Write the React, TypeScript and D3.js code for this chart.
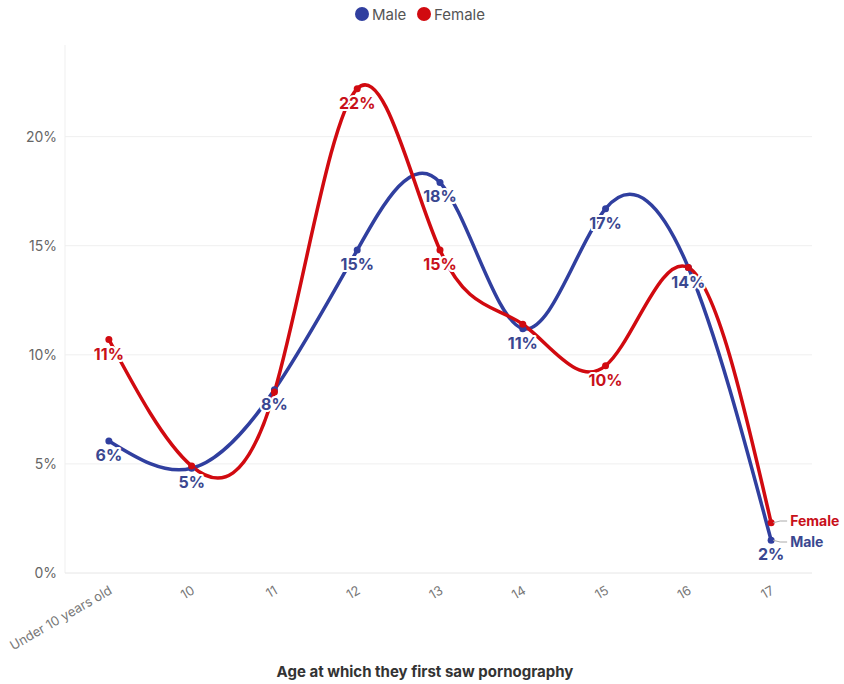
import React from "react";
import * as d3 from "d3";

const categories = ["Under 10 years old", "10", "11", "12", "13", "14", "15", "16", "17"];
const maleValues = [6.05, 4.8, 8.4, 14.8, 17.9, 11.2, 16.7, 14.0, 1.5];
const femaleValues = [10.7, 4.9, 8.3, 22.2, 14.8, 11.4, 9.5, 14.0, 2.3];
const maleLabels = ["6%", "5%", "8%", "15%", "18%", "11%", "17%", "14%", "2%"];
const femaleLabels = ["11%", "", "", "22%", "15%", "", "10%", "", ""];
const yTicks = [0, 5, 10, 15, 20];
const seriesNames = ["Male", "Female"];

const W = 844;
const H = 684;
const left = 65;
const right = 815;
const top = 45;
const bottom = 573;

const MALE = "#303f9f";
const FEMALE = "#d10a10";
const MALE_TXT = "#3a4790";
const FEMALE_TXT = "#c8101a";
const FONT = "Inter, 'Noto Sans', sans-serif";

export default function App() {
  const x = d3.scalePoint<string>().domain(categories).range([left, right]).padding(0.53);
  const y = d3.scaleLinear().domain([0, 24.2]).range([bottom, top]);
  const line = d3
    .line<number>()
    .x((_, i) => x(categories[i]) as number)
    .y((d) => y(d))
    .curve(d3.curveNatural);

  const series = [
    { name: "Male", values: maleValues, labels: maleLabels, color: MALE, txt: MALE_TXT },
    { name: "Female", values: femaleValues, labels: femaleLabels, color: FEMALE, txt: FEMALE_TXT },
  ];
  const last = categories.length - 1;

  return (
    <svg width={W} height={H} style={{ position: "absolute", left: 0, top: 0, background: "#fff" }} fontFamily={FONT}>
      {/* legend */}
      <g>
        <circle cx={362} cy={14} r={7} fill={MALE} />
        <text x={372} y={19.5} fontSize={15} fill="#555">{seriesNames[0]}</text>
        <circle cx={424} cy={14} r={7} fill={FEMALE} />
        <text x={434} y={19.5} fontSize={15} fill="#555">{seriesNames[1]}</text>
      </g>
      {/* grid */}
      <line x1={left} x2={left} y1={top} y2={bottom} stroke="#efefef" />
      {yTicks.map((t) => (
        <g key={t}>
          <line x1={left} x2={right - 3} y1={y(t)} y2={y(t)} stroke={t === 0 ? "#e6e6e6" : "#efefef"} />
          <text x={57} y={y(t) + 5} textAnchor="end" fontSize={14} fill="#666">
            {t}%
          </text>
        </g>
      ))}
      {/* x ticks */}
      {categories.map((c) => (
        <text
          key={c}
          transform={`translate(${(x(c) as number) + 4},${593}) rotate(-30)`}
          textAnchor="end"
          fontSize={13}
          fill="#777"
        >
          {c}
        </text>
      ))}
      <text x={425} y={677} textAnchor="middle" fontSize={15} fontWeight={700} fill="#333">
        Age at which they first saw pornography
      </text>
      {/* lines */}
      {series.map((s) => (
        <path key={s.name} d={line(s.values) || ""} fill="none" stroke={s.color} strokeWidth={3.5} strokeLinecap="round" />
      ))}
      {series.map((s) =>
        s.values.map((v, i) => (
          <circle key={s.name + i} cx={x(categories[i]) as number} cy={y(v)} r={3.5} fill={s.color} />
        ))
      )}
      {/* labels */}
      {series.map((s) =>
        s.values.map((v, i) =>
          s.labels[i] ? (
            <text
              key={"l" + s.name + i}
              x={x(categories[i]) as number}
              y={y(v) + 20}
              textAnchor="middle"
              fontSize={16}
              fontWeight={700}
              fill={s.txt}
              stroke="#fff"
              strokeWidth={4}
              strokeLinejoin="round"
              paintOrder="stroke"
            >
              {s.labels[i]}
            </text>
          ) : null
        )
      )}
      {/* end labels */}
      {series.map((s, k) => {
        const px = x(categories[last]) as number;
        const py = y(s.values[last]);
        const ly = k === 0 ? 543 : 522;
        return (
          <g key={"e" + s.name}>
            <path d={`M${px + 2},${py} L${px + 9},${ly - 1} L${px + 16},${ly - 1}`} fill="none" stroke="#aaa" strokeWidth={1} />
            <text x={px + 19} y={ly + 4} fontSize={14} fontWeight={700} fill={s.txt}>
              {s.name}
            </text>
          </g>
        );
      })}
    </svg>
  );
}
